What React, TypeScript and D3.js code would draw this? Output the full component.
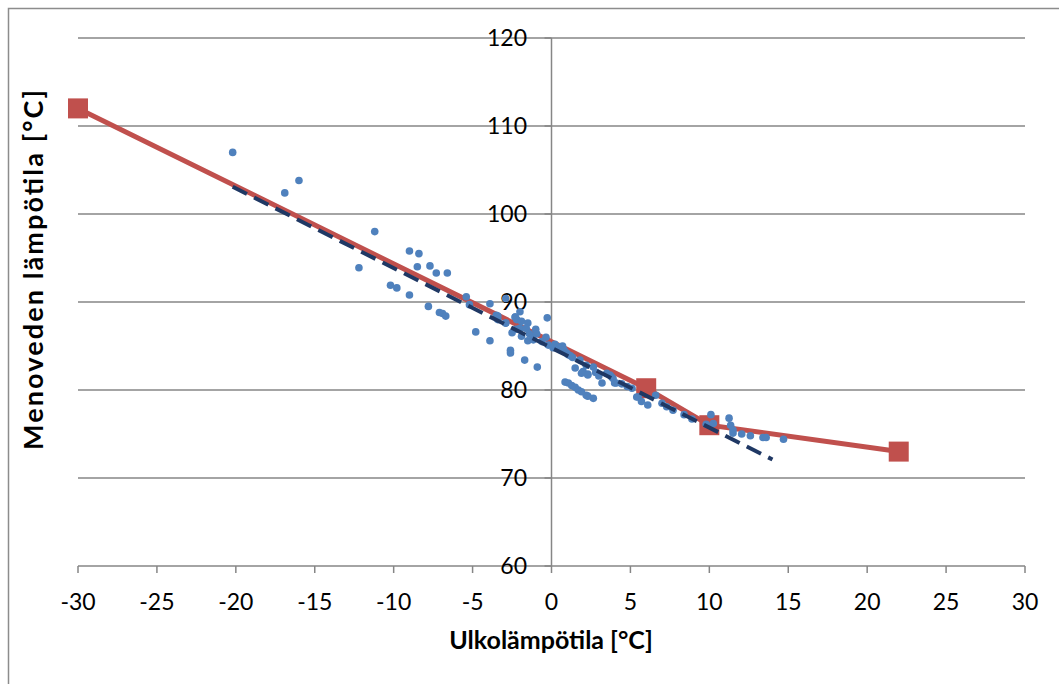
import React from "react";
import * as d3 from "d3";

const xTicks = [-30, -25, -20, -15, -10, -5, 0, 5, 10, 15, 20, 25, 30];
const yTicks = [60, 70, 80, 90, 100, 110, 120];

// Heating curve (red line with square markers)
const curveX = [-30, 6, 10, 22];
const curveY = [112, 80.2, 76, 73];

// Linear trend (dashed)
const trendX = [-20.2, 14.0];
const trendY = [103.1, 72.1];

// Measured points
const obsX = [
  -20.2, -16.9, -16.0, -11.2, -12.2, -9.0, -8.4, -8.5, -7.7, -7.3, -6.6, -10.2, -9.8, -9.0,
  -7.8, -7.1, -6.9, -6.7, -5.4, -5.2, -3.9, -4.8, -3.9, -3.5, -3.4, -2.9, -2.3, -2.6,
  -2.9, -3.4, -2.9, -2.6, -1.7, -0.9, -2.3, -2.0, -2.2, -1.9, -1.5, -2.25, -2.0, -1.6,
  -1.4, -1.0, -0.94, -1.9, -1.5, -1.15, -0.27, -0.35, -0.2, 0.22, 0.5, 0.7, 0.8, 0.96,
  1.07, 1.34, 1.8, 1.5, 2.0, 2.3, 2.2, 2.65, 3.2, 3.5, 3.8, 4.0, 4.45, 5.1, 5.4, 0.86,
  1.07, 1.28, 1.5, 1.7, 2.2, 2.65, 1.9, 2.3, 1.9, 2.3, 3.7, 3.9, 4.1, 5.5, 5.7, 6.1, 6.6,
  7.0, 7.3, 7.7, 8.4, 8.9, 9.8, 10.1, 10.25, 11.25, 11.35, 11.5, 11.5, 12.05, 12.6, 13.4,
  13.6, 14.7, -2.5, -1.2, -0.6, 0.1, 1.2, 2.8, 3.0, 4.8,
];
const obsY = [
  107.0, 102.4, 103.8, 98.0, 93.9, 95.8, 95.5, 94.0, 94.1, 93.3, 93.3, 91.9, 91.6, 90.8,
  89.5, 88.8, 88.7, 88.4, 90.6, 89.7, 89.8, 86.6, 85.6, 88.5, 88.0, 87.6, 88.3, 84.5,
  90.4, 88.4, 87.6, 84.2, 83.4, 82.6, 88.3, 88.9, 88.0, 87.8, 87.6, 86.9, 87.0, 87.0,
  86.4, 86.9, 86.4, 86.1, 85.6, 85.7, 88.2, 86.0, 85.1, 85.2, 84.9, 85.0, 84.5, 84.2,
  84.0, 83.7, 83.4, 82.5, 82.1, 81.8, 82.8, 82.6, 80.8, 81.9, 81.5, 80.8, 80.7, 80.2, 79.2, 80.9,
  80.8, 80.5, 80.3, 80.0, 79.4, 79.05, 81.9, 81.7, 79.8, 79.3, 81.7, 81.3, 80.8, 79.2, 78.7, 78.3, 79.4,
  78.5, 78.1, 77.7, 77.2, 76.7, 76.1, 77.2, 76.2, 76.8, 76.0, 75.45, 75.1, 75.0, 74.8, 74.6,
  74.6, 74.4, 86.5, 85.9, 85.5, 84.8, 83.9, 82.0, 81.6, 80.4,
];

const W = 1059;
const H = 684;
const FONT = "Lato, 'Noto Sans', sans-serif";

export default function App() {
  const x = d3.scaleLinear().domain([-30, 30]).range([78, 1025]);
  const y = d3.scaleLinear().domain([60, 120]).range([566, 38]);
  const grid = "#868686";
  const curvePath = d3
    .line<number>()
    .x((d) => x(d))
    .y((_, i) => y(curveY[i]))(curveX) as string;
  const trendPath = d3
    .line<number>()
    .x((d) => x(d))
    .y((_, i) => y(trendY[i]))(trendX) as string;
  const sq = 20;

  return (
    <svg
      width={W}
      height={H}
      style={{ position: "absolute", left: 0, top: 0, background: "#fff" }}
      fontFamily={FONT}
    >
      <rect x={8.5} y={8.5} width={W + 20} height={H + 20} fill="#fff" stroke="#8c8c8c" strokeWidth={1.5} />
      {yTicks
        .filter((t) => t !== 60)
        .map((t) => (
          <line key={t} x1={x(-30)} x2={x(30)} y1={y(t)} y2={y(t)} stroke={grid} strokeWidth={1.5} />
        ))}
      {/* x axis */}
      <line x1={x(-30)} x2={x(30)} y1={y(60)} y2={y(60)} stroke={grid} strokeWidth={1.5} />
      {xTicks.map((t) => (
        <line key={t} x1={x(t)} x2={x(t)} y1={y(60)} y2={y(60) + 7} stroke={grid} strokeWidth={1.5} />
      ))}
      {/* y axis */}
      <line x1={x(0)} x2={x(0)} y1={y(120)} y2={y(60)} stroke={grid} strokeWidth={1.5} />
      {yTicks.map((t) => (
        <line key={t} x1={x(0) - 7} x2={x(0)} y1={y(t)} y2={y(t)} stroke={grid} strokeWidth={1.5} />
      ))}
      {xTicks.map((t) => (
        <text key={t} x={x(t)} y={610} textAnchor="middle" fontSize={23} fill="#000">
          {t}
        </text>
      ))}
      {yTicks.map((t) => (
        <text key={t} x={527} y={y(t) + 8} textAnchor="end" fontSize={23} fill="#000">
          {t}
        </text>
      ))}
      {/* heating curve */}
      <path d={curvePath} fill="none" stroke="#C0504D" strokeWidth={5} />
      {curveX.map((d, i) => (
        <rect key={i} x={x(d) - sq / 2} y={y(curveY[i]) - sq / 2} width={sq} height={sq} fill="#C0504D" />
      ))}
      {/* observations */}
      {obsX.map((d, i) => (
        <circle key={i} cx={x(d)} cy={y(obsY[i])} r={3.8} fill="#4F81BD" />
      ))}
      {/* trend */}
      <path d={trendPath} fill="none" stroke="#1F3864" strokeWidth={4} strokeDasharray="16,8" />
      {/* titles */}
      <text x={551} y={649} textAnchor="middle" fontSize={25} fontWeight="bold" fill="#000">
        Ulkolämpötila [°C]
      </text>
      <text
        transform={`translate(43,270) rotate(-90)`}
        textAnchor="middle"
        fontSize={27}
        fontWeight="bold"
        fill="#000"
        textLength={360}
        lengthAdjust="spacing"
      >
        Menoveden lämpötila [°C]
      </text>
    </svg>
  );
}
